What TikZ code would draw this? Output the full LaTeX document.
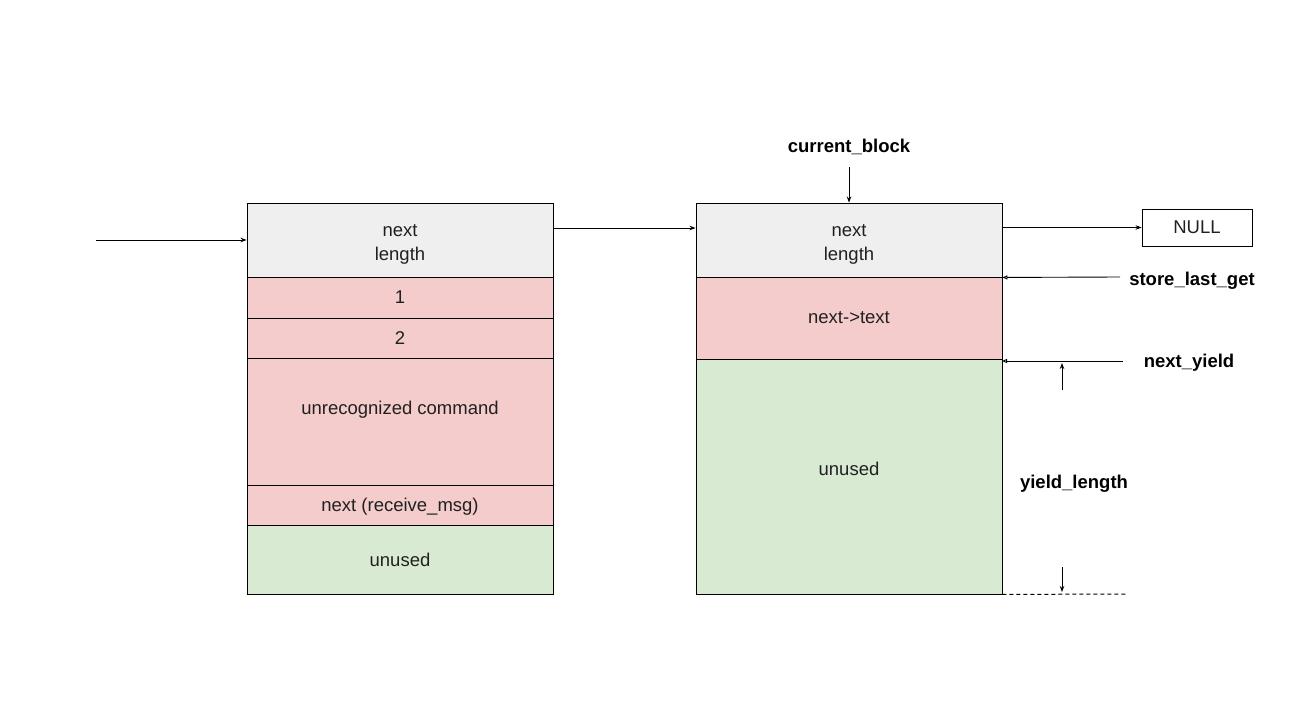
\documentclass[tikz,border=0pt]{standalone}
\usepackage{fontspec}
\setmainfont{Liberation Sans}
\usetikzlibrary{arrows.meta}
\definecolor{hdr}{HTML}{EFEFEF}
\definecolor{pinkc}{HTML}{F4CCCC}
\definecolor{greenc}{HTML}{D9EAD3}
\definecolor{txtc}{HTML}{202020}
\tikzset{
  cell/.style={draw=black, line width=0.9pt, inner sep=0pt, minimum width=306pt, text=txtc, align=center, font=\fontsize{18.5}{24}\selectfont},
  txt/.style={inner sep=0pt, text=txtc, align=center, font=\fontsize{18.5}{24}\selectfont},
  lbl/.style={inner sep=0pt, text=black, font=\fontsize{18.5}{24}\selectfont\bfseries},
  arr/.style={line width=0.9pt, -{Stealth[length=6pt,width=4.5pt]}},
  oarr/.style={line width=0.9pt, -{Triangle[open,length=5pt,width=4pt]}},
}
\begin{document}
\begin{tikzpicture}[x=1pt,y=-1pt]
\useasboundingbox (0,0) rectangle (1300,703);
% left block
\node[cell, fill=hdr, minimum height=74pt] (lh) at (400,240) {};
\node[txt] (lht) at (400,244) {next\\length};
\node[cell, fill=pinkc, minimum height=41pt] (l1) at (400,297.5) {1};
\node[cell, fill=pinkc, minimum height=40pt] (l2) at (400,338) {2};
\node[cell, fill=pinkc, minimum height=127pt] (lu) at (400,421.5) {};
\node[txt] (lut) at (400,410) {unrecognized command};
\node[cell, fill=pinkc, minimum height=40pt] (ln) at (400,505) {};
\node[txt] (lnt) at (400,507) {next (receive\_msg)};
\node[cell, fill=greenc, minimum height=69pt] (lf) at (400,559.5) {unused};
% right block
\node[cell, fill=hdr, minimum height=74pt] (rh) at (849,240) {};
\node[txt] (rht) at (849,244) {next\\length};
\node[cell, fill=pinkc, minimum height=82pt] (rt) at (849,318) {next->text};
\node[cell, fill=greenc, minimum height=235pt] (rf) at (849,476.5) {};
\node[txt] (rft) at (849,469) {unused};
% NULL
\node[draw=black, line width=0.9pt, minimum width=110pt, minimum height=37pt, inner sep=0pt, txt] (null) at (1197,227.5) {NULL};
% labels
\node[lbl] (cb) at (849,147) {current\_block};
\node[lbl] (sl) at (1192,281) {store\_last\_get};
\node[lbl] (ny) at (1189,363) {next\_yield};
\node[lbl] (yl) at (1074,484) {yield\_length};
% connectors
\coordinate (in) at (96,240);
\draw[arr] (in) -- (lh.west);
\draw[arr] ([yshift=12pt]lh.east) -- ([yshift=12pt]rh.west);
\draw[arr] (rh.east |- null.west) -- (null.west);
\coordinate (cbs) at (849,167);
\draw[arr] (cbs) -- (rh.north);
\coordinate (sls) at (1120,277);
\draw[oarr] (sls) -- (rh.south east);
\coordinate (nys) at (1123,361);
\coordinate (nye) at (1002,361);
\draw[oarr] (nys) -- (nye);
\coordinate (ua) at (1062,390);
\coordinate (ub) at (1062,363);
\draw[arr] (ua) -- (ub);
\coordinate (da) at (1062,567);
\coordinate (db) at (1062,592);
\draw[arr] (da) -- (db);
\coordinate (dend) at (1126,594);
\draw[line width=1pt, dash pattern=on 4pt off 3pt] (rf.south east) -- (dend);
\end{tikzpicture}
\end{document}
